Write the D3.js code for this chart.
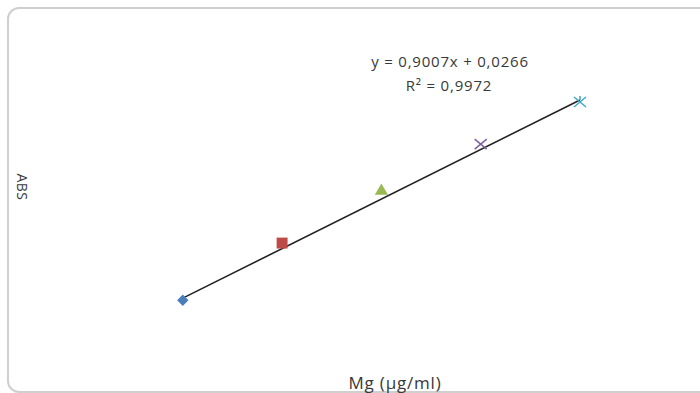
<!DOCTYPE html>
<html>
<head>
<meta charset="utf-8">
<script src="https://cdn.jsdelivr.net/npm/d3@7"></script>
<style>
  body { margin: 0; background: #fff; }
  text { font-family: "Open Sans", "Noto Sans", sans-serif; fill: #383838; }
</style>
</head>
<body>
<div id="chart"></div>
<script>
// calibration points, Mg standards vs absorbance
var concentrations = [0.2, 0.4, 0.6, 0.8, 1.0];
var absorbances = [0.199, 0.407, 0.589, 0.767, 0.920];
var markerShapes = ["diamond", "square", "triangle", "x", "star"];
var markerColors = ["#4a7ebb", "#be4b48", "#98b954", "#7d60a0", "#46aac5"];
// trendline from the chart
var slope = 0.9007, intercept = 0.0266;
var equationLines = ["y = 0,9007x + 0,0266", "R² = 0,9972"];
var xLabel = "Mg (µg/ml)", yLabel = "ABS";

var width = 700, height = 393;

var svg = d3.select("#chart")
  .append("svg")
    .attr("width", width)
    .attr("height", height);

// chart area border (rounded, runs past the right and bottom edge)
svg.append("rect")
  .attr("x", 8).attr("y", 8)
  .attr("width", 710).attr("height", 384)
  .attr("rx", 11).attr("ry", 11)
  .style("fill", "none")
  .style("stroke", "#cfcfcf")
  .style("stroke-width", 2);

var x = d3.scaleLinear()
  .domain([0, 1])
  .range([83.5, 580]);

var y = d3.scaleLinear()
  .domain([0, 1])
  .range([355, 80]);

// linear trendline
var xmin = d3.min(concentrations), xmax = d3.max(concentrations);
svg.append("path")
  .datum([xmin, xmax])
  .attr("d", d3.line()
    .x(function(d) { return x(d) })
    .y(function(d) { return y(slope * d + intercept) })
  )
  .style("stroke", "#222")
  .style("stroke-width", 1.6)
  .style("fill", "none");

// markers
var pts = concentrations.map(function(c, i) {
  return { x: c, y: absorbances[i], shape: markerShapes[i], color: markerColors[i] };
});

var g = svg.selectAll(".pt")
  .data(pts)
  .enter()
  .append("g")
    .attr("transform", function(d) { return "translate(" + x(d.x) + "," + y(d.y) + ")" });

g.each(function(d) {
  var el = d3.select(this);
  if (d.shape == "diamond") {
    el.append("path").attr("d", d3.symbol(d3.symbolSquare, 64))
      .attr("transform", "rotate(45)").style("fill", d.color);
  } else if (d.shape == "square") {
    el.append("path").attr("d", d3.symbol(d3.symbolSquare, 120)).style("fill", d.color);
  } else if (d.shape == "triangle") {
    el.append("path").attr("d", d3.symbol(d3.symbolTriangle, 75))
      .attr("transform", "translate(0,-2)").style("fill", d.color);
  } else if (d.shape == "x") {
    el.append("path").attr("d", "M-6,-5L6,5M-6,5L6,-5")
      .style("stroke", d.color).style("stroke-width", 1.5).style("fill", "none");
  } else {
    el.append("path").attr("d", "M-6,-5L6,5M-6,5L6,-5M0,-6L0,-2")
      .style("stroke", d.color).style("stroke-width", 1.6).style("fill", "none");
  }
});

// trendline equation
svg.append("text")
  .attr("x", 450).attr("y", 67)
  .attr("text-anchor", "middle")
  .style("font-size", "15px")
  .style("letter-spacing", "0.8px")
  .text(equationLines[0]);
svg.append("text")
  .attr("x", 449).attr("y", 91)
  .attr("text-anchor", "middle")
  .style("font-size", "15px")
  .style("letter-spacing", "0.8px")
  .text(equationLines[1]);

// axis titles
svg.append("text")
  .attr("x", 395).attr("y", 389)
  .attr("text-anchor", "middle")
  .style("font-size", "17px")
  .style("letter-spacing", "0.8px")
  .text(xLabel);

svg.append("text")
  .attr("transform", "translate(17,187) rotate(90)")
  .attr("text-anchor", "middle")
  .style("font-size", "14px")
  .style("letter-spacing", "0.5px")
  .text(yLabel);
</script>
</body>
</html>
